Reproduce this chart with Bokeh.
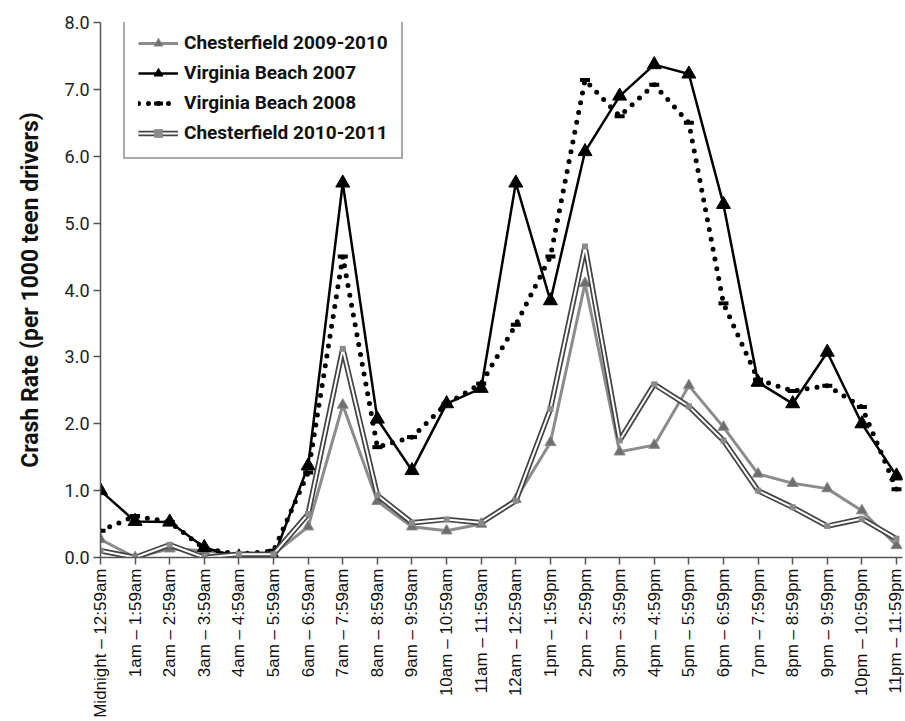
import math
from bokeh.plotting import figure
from bokeh.models import FixedTicker, NumeralTickFormatter, Range1d, Legend, LegendItem
from bokeh.embed import file_html
from bokeh.resources import INLINE

hours = ["Midnight – 12:59am", "1am – 1:59am", "2am – 2:59am", "3am – 3:59am",
         "4am – 4:59am", "5am – 5:59am", "6am – 6:59am", "7am – 7:59am",
         "8am – 8:59am", "9am – 9:59am", "10am – 10:59am", "11am – 11:59am",
         "12am – 12:59am", "1pm – 1:59pm", "2pm – 2:59pm", "3pm – 3:59pm",
         "4pm – 4:59pm", "5pm – 5:59pm", "6pm – 6:59pm", "7pm – 7:59pm",
         "8pm – 8:59pm", "9pm – 9:59pm", "10pm – 10:59pm", "11pm – 11:59pm"]

chest_0910 = [0.27, 0.0, 0.13, 0.1, 0.04, 0.05, 0.46, 2.28, 0.84, 0.46, 0.40, 0.50,
              0.87, 1.72, 4.10, 1.58, 1.68, 2.57, 1.95, 1.25, 1.11, 1.03, 0.70, 0.18]
vb_2007 = [1.0, 0.54, 0.53, 0.15, 0.0, 0.0, 1.37, 5.60, 2.07, 1.30, 2.30, 2.53,
           5.60, 3.84, 6.07, 6.90, 7.37, 7.23, 5.28, 2.62, 2.30, 3.07, 2.00, 1.22]
vb_2008 = [0.40, 0.62, 0.53, 0.13, 0.05, 0.10, 1.27, 4.50, 1.65, 1.80, 2.30, 2.60,
           3.48, 4.50, 7.14, 6.60, 7.07, 6.50, 3.80, 2.66, 2.49, 2.57, 2.25, 1.02]
chest_1011 = [0.10, 0.0, 0.19, 0.0, 0.05, 0.05, 0.65, 3.12, 0.93, 0.52, 0.57, 0.52,
              0.85, 2.22, 4.65, 1.75, 2.59, 2.26, 1.75, 1.00, 0.75, 0.47, 0.58, 0.28]

x = list(range(len(hours)))

W, H = 904, 720
left, top = 100, 22
frame_bottom = 558
px_per = 34.65
frame_right = W - 2
x_end = 23 + (frame_right - 896) / px_per

p = figure(width=W, height=H, output_backend="svg", toolbar_location=None,
           x_range=Range1d(0, x_end), y_range=Range1d(0, 8),
           min_border_left=left, min_border_top=top, min_border_bottom=H - frame_bottom,
           min_border_right=W - frame_right)
p.outline_line_color = None
p.xgrid.visible = False
p.ygrid.visible = False
p.background_fill_color = "white"

narrow = "Roboto"

# Chesterfield 2009-2010
r1l = p.line(x, chest_0910, line_color="#8c8c8c", line_width=3)
r1m = p.scatter(x, chest_0910, marker="triangle", size=11, fill_color="#6e6e6e",
                line_color="#8c8c8c", line_width=1)
# Virginia Beach 2007
r2l = p.line(x, vb_2007, line_color="black", line_width=2.5)
r2m = p.scatter(x, vb_2007, marker="triangle", size=14, fill_color="black", line_color="black")
# Virginia Beach 2008
r3l = p.line(x, vb_2008, line_color="black", line_width=5, line_dash="0 10", line_cap="round")
r3m = p.scatter(x, vb_2008, marker="dash", size=10, line_color="black", line_width=4)
# Chesterfield 2010-2011
r4a = p.line(x, chest_1011, line_color="#444444", line_width=5.5)
r4b = p.line(x, chest_1011, line_color="white", line_width=2)
r4m = p.scatter(x, chest_1011, marker="square", size=6, fill_color="#8c8c8c", line_color=None)

legend = Legend(items=[
    LegendItem(label="Chesterfield 2009-2010", renderers=[r1l, r1m]),
    LegendItem(label="Virginia Beach 2007", renderers=[r2l, r2m]),
    LegendItem(label="Virginia Beach 2008", renderers=[r3l, r3m]),
    LegendItem(label="Chesterfield 2010-2011", renderers=[r4a, r4b, r4m]),
], location=(23, 398))
legend.label_text_font = narrow
legend.label_text_font_style = "bold"
legend.label_text_font_size = "19px"
legend.label_text_color = "#111111"
legend.glyph_width = 40
legend.glyph_height = 22
legend.label_height = 22
legend.spacing = 7
legend.padding = 13
legend.margin = 0
legend.label_standoff = 6
legend.border_line_color = "#555555"
legend.border_line_width = 2
legend.background_fill_alpha = 1
p.add_layout(legend, "center")

# axes
p.yaxis.ticker = FixedTicker(ticks=[0, 1, 2, 3, 4, 5, 6, 7, 8])
p.yaxis.formatter = NumeralTickFormatter(format="0.0")
p.yaxis.major_label_text_font = narrow
p.yaxis.major_label_text_font_size = "18px"
p.yaxis.major_label_text_color = "#222222"
p.yaxis.axis_label = "Crash Rate (per 1000 teen drivers)"
p.yaxis.axis_label_text_font = narrow
p.yaxis.axis_label_text_font_style = "bold"
p.yaxis.axis_label_text_font_size = "23px"
p.yaxis.axis_label_text_color = "#111111"
p.yaxis.axis_label_standoff = 18
p.yaxis.minor_tick_line_color = None

p.xaxis.ticker = FixedTicker(ticks=x)
p.xaxis.major_label_overrides = {i: h for i, h in enumerate(hours)}
p.xaxis.major_label_orientation = math.pi / 2
p.xaxis.major_label_text_font = "Liberation Sans"
p.xaxis.major_label_text_font_size = "17px"
p.xaxis.major_label_text_color = "#111111"
p.xaxis.minor_tick_line_color = None

for ax in (p.xaxis[0], p.yaxis[0]):
    ax.axis_line_color = "#555555"
    ax.axis_line_width = 1.5
    ax.major_tick_line_color = "#555555"
    ax.major_tick_line_width = 1.5
    ax.major_tick_in = 0
    ax.major_tick_out = 7
    ax.major_label_standoff = 4

open("out.html", "w").write(file_html(p, INLINE))
